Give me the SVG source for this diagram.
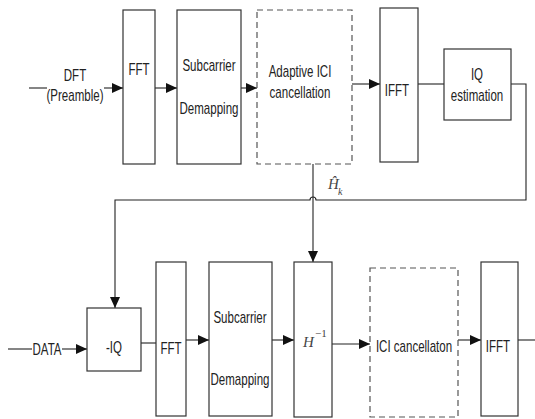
<svg xmlns="http://www.w3.org/2000/svg" width="535" height="419" viewBox="0 0 535 419">
<defs>
<style>
.box{fill:#fff;stroke:#333;stroke-width:1.2}
.dash{fill:#fff;stroke:#555;stroke-width:1.2;stroke-dasharray:6,4}
.ln{fill:none;stroke:#222;stroke-width:1.1}
.t{font-family:"Liberation Sans",Arial,sans-serif;font-size:16px;fill:#222;text-anchor:middle}
.m{font-family:"Liberation Serif","Times New Roman",serif;font-style:italic;fill:#444}
</style>
<marker id="a" markerUnits="userSpaceOnUse" markerWidth="12" markerHeight="10" refX="11" refY="5" orient="auto">
<path d="M0,0 L11,5 L0,10 Z" fill="#111"/>
</marker>
</defs>
<rect width="535" height="419" fill="#fff"/>
<g id="connectors">
<line class="ln" x1="29" y1="88" x2="47" y2="88"/>
<line class="ln" x1="104" y1="88" x2="123" y2="88" marker-end="url(#a)"/>
<line class="ln" x1="155" y1="88" x2="177" y2="88" marker-end="url(#a)"/>
<line class="ln" x1="241" y1="88" x2="257" y2="88" marker-end="url(#a)"/>
<line class="ln" x1="352" y1="84" x2="380" y2="84" marker-end="url(#a)"/>
<line class="ln" x1="418" y1="84" x2="444" y2="84"/>
<path class="ln" d="M511,84 H526 V200 H316 A3,3 0 0 0 310,200 H115 V308" marker-end="url(#a)"/>
<line class="ln" x1="313" y1="164" x2="313" y2="262" marker-end="url(#a)"/>
<line class="ln" x1="8" y1="349" x2="32" y2="349"/>
<line class="ln" x1="62" y1="349" x2="87" y2="349" marker-end="url(#a)"/>
<line class="ln" x1="141" y1="343" x2="156" y2="343"/>
<line class="ln" x1="186" y1="340" x2="209" y2="340" marker-end="url(#a)"/>
<line class="ln" x1="272" y1="340" x2="294" y2="340" marker-end="url(#a)"/>
<line class="ln" x1="332" y1="344" x2="370" y2="344" marker-end="url(#a)"/>
<line class="ln" x1="458" y1="340" x2="481" y2="340" marker-end="url(#a)"/>
<line class="ln" x1="518" y1="340" x2="535" y2="340"/>
</g>
<g id="in-dft">
<text class="t" transform="translate(75,81) scale(0.72,1)">DFT</text>
<text class="t" transform="translate(75,101) scale(0.72,1)">(Preamble)</text>
</g>
<g id="fft1">
<rect class="box" x="123" y="10" width="32" height="154"/>
<text class="t" transform="translate(139,75) scale(0.72,1)">FFT</text>
</g>
<g id="demap1">
<rect class="box" x="177" y="10" width="64" height="154"/>
<text class="t" transform="translate(209,71) scale(0.72,1)">Subcarrier</text>
<text class="t" transform="translate(209,114) scale(0.72,1)">Demapping</text>
</g>
<g id="adaptive">
<rect class="dash" x="257" y="10" width="95" height="154"/>
<text class="t" transform="translate(300,77) scale(0.72,1)">Adaptive ICI</text>
<text class="t" transform="translate(300,98) scale(0.72,1)">cancellation</text>
</g>
<g id="ifft1">
<rect class="box" x="380" y="8" width="38" height="154"/>
<text class="t" transform="translate(397,96) scale(0.72,1)">IFFT</text>
</g>
<g id="iqest">
<rect class="box" x="444" y="49" width="67" height="71"/>
<text class="t" transform="translate(477,80) scale(0.72,1)">IQ</text>
<text class="t" transform="translate(477,101) scale(0.72,1)">estimation</text>
</g>
<g id="hk">
<text class="m" x="328" y="189" font-size="15">Ĥ</text>
<text class="m" x="338" y="195" font-size="10">k</text>
</g>
<g id="in-data">
<text class="t" transform="translate(47,355) scale(0.72,1)">DATA</text>
</g>
<g id="neg-iq">
<rect class="box" x="87" y="308" width="54" height="63"/>
<text class="t" transform="translate(114,353) scale(0.72,1)">-IQ</text>
</g>
<g id="fft2">
<rect class="box" x="156" y="262" width="30" height="154"/>
<text class="t" transform="translate(171,354) scale(0.72,1)">FFT</text>
</g>
<g id="demap2">
<rect class="box" x="209" y="262" width="63" height="154"/>
<text class="t" transform="translate(240,323) scale(0.72,1)">Subcarrier</text>
<text class="t" transform="translate(240,385) scale(0.72,1)">Demapping</text>
</g>
<g id="hinv">
<rect class="box" x="294" y="262" width="38" height="155"/>
<text class="m" x="303" y="347" font-size="15">H</text>
<text x="315" y="337" font-family="Liberation Serif,serif" font-size="11" fill="#444">−1</text>
</g>
<g id="ici">
<rect class="dash" x="370" y="268" width="88" height="149"/>
<text class="t" transform="translate(414,352) scale(0.72,1)">ICI cancellaton</text>
</g>
<g id="ifft2">
<rect class="box" x="481" y="262" width="37" height="154"/>
<text class="t" transform="translate(498,352) scale(0.72,1)">IFFT</text>
</g>
</svg>
